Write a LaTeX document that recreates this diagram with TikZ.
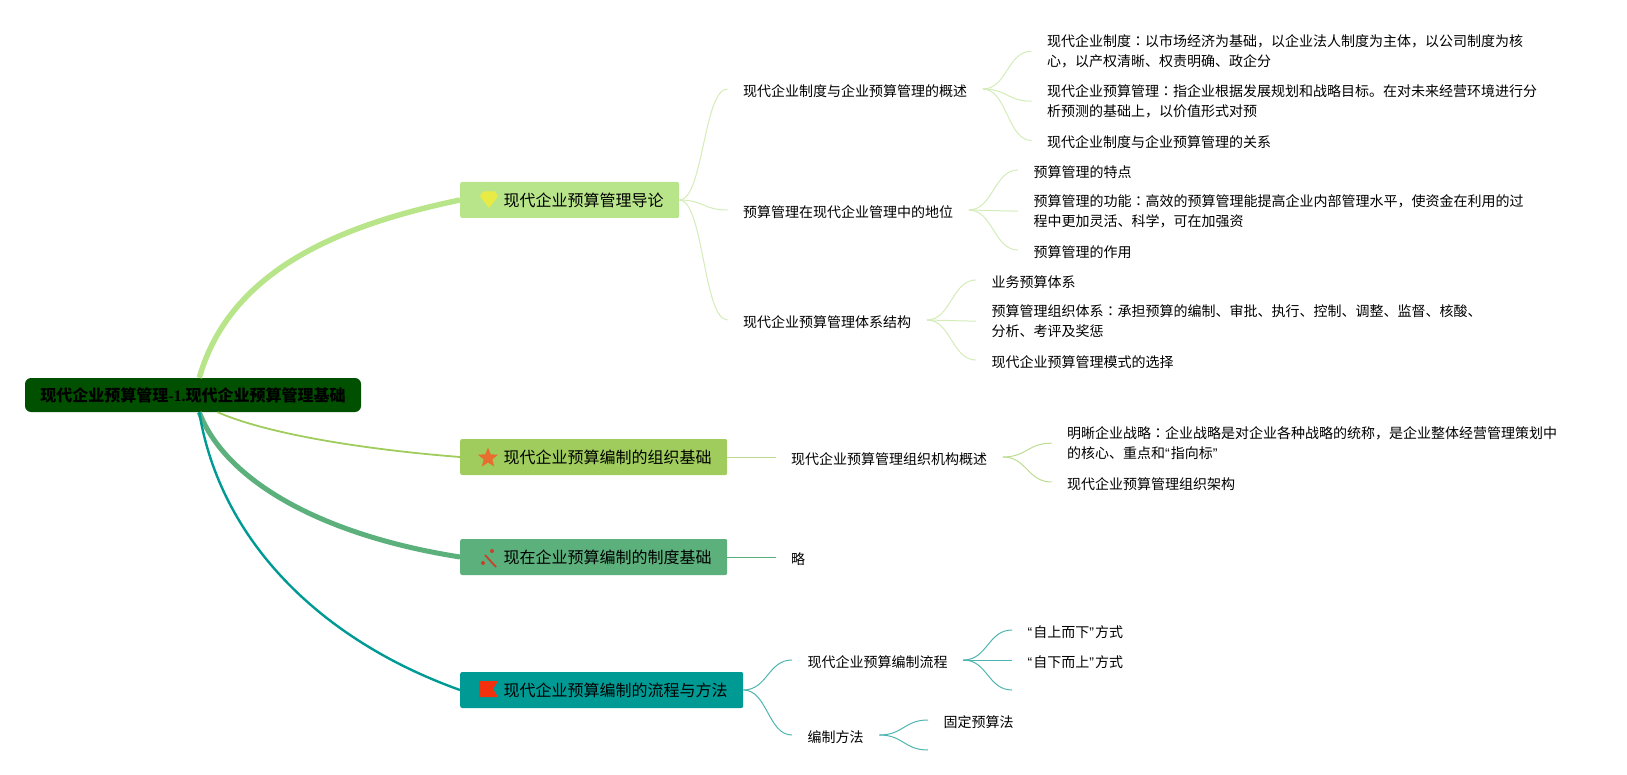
\documentclass[tikz,border=0pt]{standalone}
\usepackage{fontspec}
\usepackage{tikz}
\usetikzlibrary{shapes.geometric}
\newfontfamily\cjk{Noto Sans CJK SC}
\newfontfamily\cjkcolon{Noto Sans CJK JP}
\newfontfamily\latinq{Liberation Sans}
\newfontfamily\latinb{Liberation Serif}
\newcommand\mkcolon{{\cjkcolon ：}}
\newcommand\openq{{\latinq “}\kern1pt}
\newcommand\closeq{{\latinq ”}\kern1pt}
\definecolor{rootgreen}{HTML}{005000}
\definecolor{bone}{HTML}{B8E58A}
\definecolor{btwo}{HTML}{9FCC5C}
\definecolor{bthree}{HTML}{5BB07C}
\definecolor{bfour}{HTML}{009A94}
\definecolor{lone}{HTML}{D3ECB8}
\definecolor{ltwo}{HTML}{BCDC92}
\definecolor{lfour}{HTML}{4FB5B0}
\definecolor{gemyellow}{HTML}{E8EA45}
\definecolor{starorange}{HTML}{E86E30}
\definecolor{wandred}{HTML}{C8402E}
\definecolor{flagred}{HTML}{F5300C}
\tikzset{
  branch/.style={anchor=west,rounded corners=2pt,minimum height=36pt,inner xsep=15.5pt,inner ysep=0pt,font=\cjk\fontsize{16}{20}\selectfont},
  sub/.style={anchor=west,inner xsep=15.5pt,inner ysep=0pt,text height=14.5pt,text depth=0pt,font=\cjk\fontsize{14}{20}\selectfont},
  para/.style={anchor=west,align=left,yshift=-1.2pt,inner xsep=15.5pt,inner ysep=0pt,font=\cjk\fontsize{14}{20}\selectfont},
  linkone/.style={draw=lone,line width=1pt},
  linktwo/.style={draw=ltwo,line width=1pt},
  linkthree/.style={draw=bthree,line width=.8pt},
  linkfour/.style={draw=lfour,line width=1pt}
}
\begin{document}
\begin{tikzpicture}[x=1pt,y=-1pt]
  \useasboundingbox (0,0) rectangle (1627,775);
  \node[fill=rootgreen,rounded corners=6pt,minimum width=336pt,minimum height=34pt,inner sep=0pt,font=\cjk\bfseries\fontsize{16}{20}\selectfont] (root) at (193,395) {现代企业预算管理{\latinb -1.}现代企业预算管理基础};

  \node[branch,fill=bone] (bintro) at (460,200) {\hspace*{28pt}现代企业预算管理导论};
  \node[branch,fill=btwo] (borg) at (460,457) {\hspace*{28pt}现代企业预算编制的组织基础};
  \node[branch,fill=bthree] (bsys) at (460,557) {\hspace*{28pt}现在企业预算编制的制度基础};
  \node[branch,fill=bfour] (bflow) at (460,690) {\hspace*{28pt}现代企业预算编制的流程与方法};

  % first branch
  \node[sub] (over) at (727.5,89) {现代企业制度与企业预算管理的概述};
  \node[sub] (place) at (727.5,210) {预算管理在现代企业管理中的地位};
  \node[sub] (struct) at (727.5,320) {现代企业预算管理体系结构};
  \node[para] (over1) at (1031.5,50) {现代企业制度\mkcolon 以市场经济为基础，以企业法人制度为主体，以公司制度为核\\心，以产权清晰、权责明确、政企分};
  \node[para] (over2) at (1031.5,100) {现代企业预算管理\mkcolon 指企业根据发展规划和战略目标。在对未来经营环境进行分\\析预测的基础上，以价值形式对预};
  \node[sub] (over3) at (1031.5,140.5) {现代企业制度与企业预算管理的关系};
  \node[sub] (place1) at (1018,170) {预算管理的特点};
  \node[para] (place2) at (1018,210) {预算管理的功能\mkcolon 高效的预算管理能提高企业内部管理水平，使资金在利用的过\\程中更加灵活、科学，可在加强资};
  \node[sub] (place3) at (1018,250) {预算管理的作用};
  \node[sub] (struct1) at (976,280) {业务预算体系};
  \node[para] (struct2) at (976,320) {预算管理组织体系\mkcolon 承担预算的编制、审批、执行、控制、调整、监督、核酸、\\分析、考评及奖惩};
  \node[sub] (struct3) at (976,360) {现代企业预算管理模式的选择};

  % second and third branch
  \node[sub] (orgs) at (775.5,457) {现代企业预算管理组织机构概述};
  \node[para] (orgs1) at (1051.5,442) {明晰企业战略\mkcolon 企业战略是对企业各种战略的统称，是企业整体经营管理策划中\\的核心、重点和\openq 指向标\closeq};
  \node[sub] (orgs2) at (1051.5,482) {现代企业预算管理组织架构};
  \node[sub] (lue) at (775.5,557) {略};

  % fourth branch
  \node[sub] (flow) at (792,660) {现代企业预算编制流程};
  \node[sub] (meth) at (792,735) {编制方法};
  \node[sub] (flow1) at (1012,630) {\openq 自上而下\closeq 方式};
  \node[sub] (flow2) at (1012,660) {\openq 自下而上\closeq 方式};
  \coordinate (flow3) at (1012,690);
  \node[sub] (meth1) at (928,720) {固定预算法};
  \coordinate (meth2) at (928,750);

  % from the root
  \draw[bone,line width=5.5pt] (root.70) .. controls (230,270) and (340,225) .. (bintro.west);
  \draw[btwo,line width=1.8pt] (root.-35) .. controls (270,435) and (370,450) .. (borg.west);
  \draw[bthree,line width=5pt] (root.-70) .. controls (225,480) and (320,535) .. (bsys.west);
  \draw[bfour,line width=2.4pt] (root.-70) .. controls (220,540) and (320,640) .. (bflow.west);

  \draw[linkone] (bintro.east) .. controls +(24,0) and +(-24,0) .. (over.west);
  \draw[linkone] (bintro.east) .. controls +(24,0) and +(-24,0) .. (place.west);
  \draw[linkone] (bintro.east) .. controls +(24,0) and +(-24,0) .. (struct.west);
  \draw[linkone] (over.east) .. controls +(24,0) and +(-24,0) .. (over1.west);
  \draw[linkone] (over.east) .. controls +(24,0) and +(-24,0) .. (over2.west);
  \draw[linkone] (over.east) .. controls +(24,0) and +(-24,0) .. (over3.west);
  \draw[linkone] (place.east) .. controls +(24,0) and +(-24,0) .. (place1.west);
  \draw[linkone] (place.east) -- (place2.west);
  \draw[linkone] (place.east) .. controls +(24,0) and +(-24,0) .. (place3.west);
  \draw[linkone] (struct.east) .. controls +(24,0) and +(-24,0) .. (struct1.west);
  \draw[linkone] (struct.east) -- (struct2.west);
  \draw[linkone] (struct.east) .. controls +(24,0) and +(-24,0) .. (struct3.west);

  \draw[linktwo] (borg.east) -- (orgs.west);
  \draw[linktwo] (orgs.east) .. controls +(24,0) and +(-24,0) .. (orgs1.west);
  \draw[linktwo] (orgs.east) .. controls +(24,0) and +(-24,0) .. (orgs2.west);
  \draw[linkthree] (bsys.east) -- (lue.west);

  \draw[linkfour] (bflow.east) .. controls +(24,0) and +(-24,0) .. (flow.west);
  \draw[linkfour] (bflow.east) .. controls +(24,0) and +(-24,0) .. (meth.west);
  \draw[linkfour] (flow.east) .. controls +(24,0) and +(-24,0) .. (flow1.west);
  \draw[linkfour] (flow.east) -- (flow2.west);
  \draw[linkfour] (flow.east) .. controls +(24,0) and +(-24,0) .. (flow3);
  \draw[linkfour] (meth.east) .. controls +(24,0) and +(-24,0) .. (meth1.west);
  \draw[linkfour] (meth.east) .. controls +(24,0) and +(-24,0) .. (meth2);

  % icons
  \fill[gemyellow] (483,191.5) -- (495,191.5) -- (498,196.5) -- (489,208) -- (480,196.5) -- cycle;
  \node[star,star points=5,star point ratio=2.3,fill=starorange,inner sep=0pt,minimum size=21pt] (staricon) at (488,458) {};
  \draw[wandred,line width=1.8pt] (485,555) -- (496,567);
  \fill[wandred] (483,563) circle (2) (492,551) circle (2);
  \fill[flagred] (479,681) -- (498,681) -- (493,689) -- (498,697) -- (479,697) -- cycle;
  \draw[flagred,line width=.8pt] (479.4,681) -- (479.4,699.5);
\end{tikzpicture}
\end{document}
